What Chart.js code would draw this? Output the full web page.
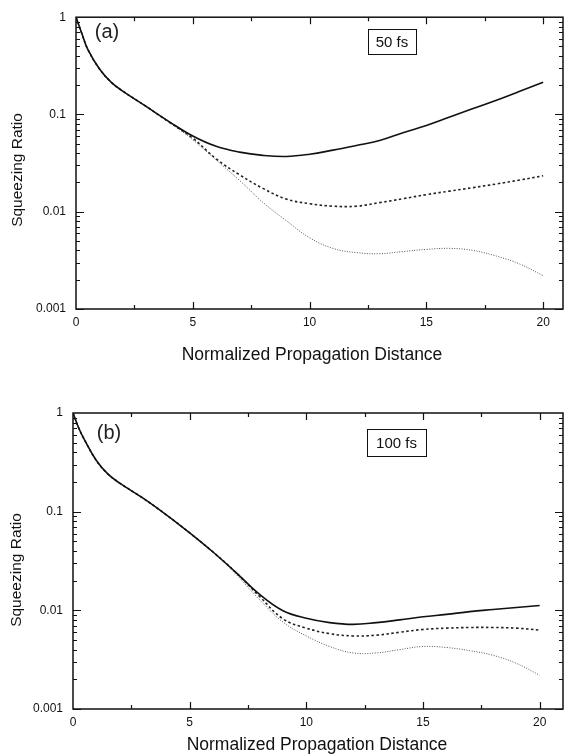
<!DOCTYPE html>
<html>
<head>
<meta charset="utf-8">
<script src="https://cdn.jsdelivr.net/npm/chart.js@4.4.1/dist/chart.umd.min.js"></script>
<style>
  html, body { margin: 0; padding: 0; background: #fff; }
  canvas { display: block; }
</style>
</head>
<body>
<canvas id="chartA" width="564" height="380"></canvas>
<canvas id="chartB" width="564" height="375"></canvas>
<script>
// propagation distance grid shared by every curve
const distance = [0, 0.25, 0.5, 1, 1.5, 2, 3, 4, 5, 6, 7, 8, 9, 10, 11, 12, 13, 14, 15, 16, 17, 18, 19, 20];
const xTicks = [0, 5, 10, 15, 20];
const yTicks = [0.001, 0.01, 0.1, 1];

// (a) 50 fs
const a50Solid  = [1.0, 0.68, 0.47, 0.295, 0.215, 0.174, 0.121, 0.084, 0.060, 0.047, 0.041, 0.038, 0.037, 0.039, 0.043, 0.048, 0.054, 0.065, 0.077, 0.094, 0.115, 0.140, 0.173, 0.214];
const a50Dashed = [1.0, 0.68, 0.47, 0.295, 0.215, 0.174, 0.121, 0.083, 0.057, 0.035, 0.024, 0.0174, 0.0135, 0.0121, 0.0114, 0.0114, 0.0124, 0.0136, 0.0150, 0.0163, 0.0177, 0.0193, 0.0212, 0.0234];
const a50Dotted = [1.0, 0.68, 0.47, 0.295, 0.215, 0.174, 0.121, 0.083, 0.055, 0.034, 0.021, 0.0125, 0.0081, 0.0054, 0.0042, 0.0038, 0.0037, 0.0039, 0.0041, 0.0042, 0.0040, 0.0035, 0.0029, 0.0022];

// (b) 100 fs
const b100Solid  = [1.0, 0.70, 0.53, 0.33, 0.240, 0.195, 0.137, 0.093, 0.061, 0.039, 0.024, 0.0145, 0.0099, 0.0083, 0.0075, 0.0072, 0.0075, 0.0080, 0.0086, 0.0091, 0.0097, 0.0102, 0.0107, 0.0112];
const b100Dashed = [1.0, 0.70, 0.53, 0.33, 0.240, 0.195, 0.137, 0.093, 0.061, 0.039, 0.024, 0.0138, 0.0082, 0.0066, 0.0058, 0.0055, 0.0056, 0.0060, 0.0064, 0.0066, 0.0067, 0.0067, 0.0066, 0.0063];
const b100Dotted = [1.0, 0.70, 0.53, 0.33, 0.240, 0.195, 0.137, 0.093, 0.061, 0.039, 0.023, 0.0128, 0.0076, 0.0055, 0.0043, 0.0037, 0.0037, 0.0040, 0.0043, 0.0042, 0.0039, 0.0035, 0.0029, 0.0022];

const family = '"Liberation Sans", Arial, Helvetica, sans-serif';

const pts = arr => arr.map((v, i) => ({ x: distance[i], y: v }));

// frame, inward ticks, panel label, box and axis titles
const framePlugin = {
  id: 'frame',
  afterDraw(chart, args, o) {
    const { ctx, chartArea: ca, scales: { x, y } } = chart;
    ctx.save();
    ctx.strokeStyle = '#111';
    ctx.lineWidth = 1.5;
    ctx.strokeRect(ca.left, ca.top, ca.right - ca.left, ca.bottom - ca.top);

    ctx.lineWidth = 1.2;
    ctx.beginPath();
    for (let v = 2.5; v <= 20; v += 2.5) {
      const px = Math.round(x.getPixelForValue(v)) + 0.5;
      const len = v % 5 === 0 ? 7 : 4;
      ctx.moveTo(px, ca.bottom); ctx.lineTo(px, ca.bottom - len);
      ctx.moveTo(px, ca.top); ctx.lineTo(px, ca.top + len);
    }
    for (let e = -3; e < 0; e++) {
      for (let m = 1; m <= 9; m++) {
        const py = Math.round(y.getPixelForValue(m * Math.pow(10, e))) + 0.5;
        const len = m === 1 ? 8 : 4;
        ctx.moveTo(ca.left, py); ctx.lineTo(ca.left + len, py);
        ctx.moveTo(ca.right, py); ctx.lineTo(ca.right - len, py);
      }
    }
    ctx.stroke();

    ctx.textAlign = 'center';
    ctx.textBaseline = 'middle';

    ctx.font = '20px ' + family;
    ctx.fillStyle = '#222';
    ctx.fillText(o.panel, o.panelX, o.panelY);

    ctx.fillStyle = '#111';
    ctx.font = '15px ' + family;
    ctx.lineWidth = 1;
    ctx.strokeRect(o.box[0] + 0.5, o.box[1] + 0.5, o.box[2], o.box[3]);
    ctx.fillText(o.boxText, o.box[0] + o.box[2] / 2, o.box[1] + o.box[3] / 2 + 1);

    ctx.font = '17.5px ' + family;
    ctx.fillText('Normalized Propagation Distance', o.xTitleX, o.xTitleY);

    ctx.font = '15.5px ' + family;
    ctx.translate(o.yTitleX, o.yTitleY);
    ctx.rotate(-Math.PI / 2);
    ctx.fillText('Squeezing Ratio', 0, 0);
    ctx.restore();
  }
};

function makeChart(id, solid, dashed, dotted, o) {
  return new Chart(document.getElementById(id), {
    type: 'line',
    data: {
      datasets: [
        { data: pts(solid), borderColor: '#111', borderWidth: 1.6 },
        { data: pts(dashed), borderColor: '#222', borderWidth: 1.6, borderDash: [2.5, 2.5] },
        { data: pts(dotted), borderColor: '#555', borderWidth: 1, borderDash: [1, 1.5] }
      ]
    },
    options: {
      responsive: false,
      animation: false,
      datasets: { line: { pointRadius: 0, tension: 0.4, fill: false } },
      layout: { padding: { top: o.top, right: 1, left: 0, bottom: 0 } },
      plugins: { legend: { display: false }, tooltip: { enabled: false }, frame: o },
      scales: {
        x: {
          type: 'linear', min: 0, max: o.xMax,
          grid: { display: false, drawTicks: false }, border: { display: false },
          afterBuildTicks: s => { s.ticks = xTicks.map(v => ({ value: v })); },
          afterFit: s => { s.height = o.xHeight; },
          ticks: { color: '#111', font: { size: 12, family }, padding: 6, maxRotation: 0 }
        },
        y: {
          type: 'logarithmic', min: 0.001, max: 1,
          grid: { display: false, drawTicks: false }, border: { display: false },
          afterBuildTicks: s => { s.ticks = yTicks.map(v => ({ value: v })); },
          afterFit: s => { s.width = o.yWidth; },
          ticks: { color: '#111', font: { size: 12, family }, padding: 10, callback: v => String(v) }
        }
      }
    },
    plugins: [framePlugin]
  });
}

makeChart('chartA', a50Solid, a50Dashed, a50Dotted, {
  top: 13, xHeight: 71, yWidth: 76, xMax: 20.85,
  panel: '(a)', panelX: 107, panelY: 32,
  box: [368, 29, 48, 25], boxText: '50 fs',
  xTitleX: 312, xTitleY: 355, yTitleX: 18, yTitleY: 170
});

makeChart('chartB', b100Solid, b100Dashed, b100Dotted, {
  top: 33, xHeight: 46, yWidth: 73, xMax: 21,
  panel: '(b)', panelX: 109, panelY: 53,
  box: [367, 49, 59, 27], boxText: '100 fs',
  xTitleX: 317, xTitleY: 365, yTitleX: 17, yTitleY: 190
});
</script>
</body>
</html>
